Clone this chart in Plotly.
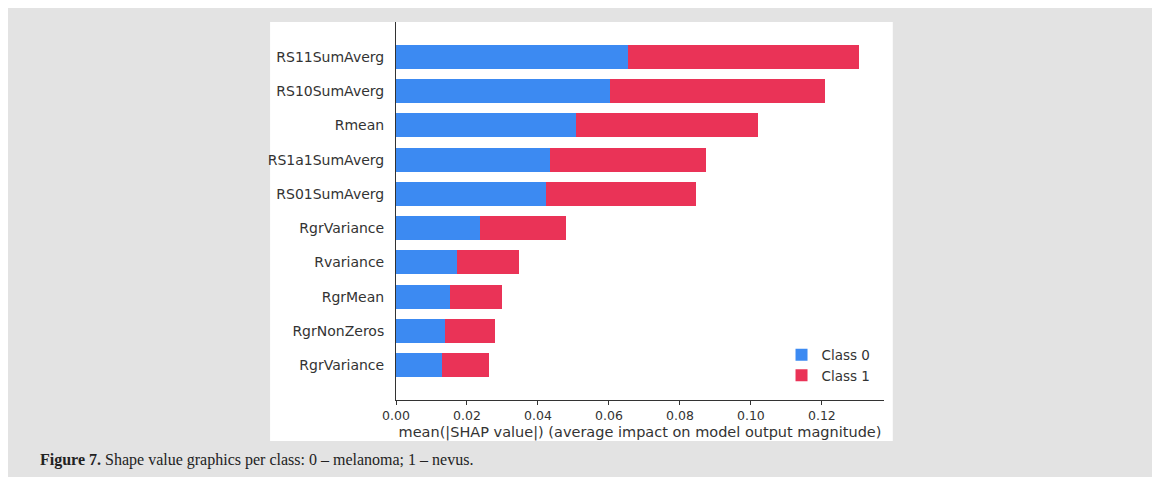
import plotly.graph_objects as go

features = ["RS11SumAverg", "RS10SumAverg", "Rmean", "RS1a1SumAverg", "RS01SumAverg",
            "RgrVariance", "Rvariance", "RgrMean", "RgrNonZeros", "RgrVariance"]
class0 = [0.0654, 0.0603, 0.0507, 0.0434, 0.0423, 0.0237, 0.0172, 0.0152, 0.0138, 0.0130]
class1 = [0.0650, 0.0605, 0.0513, 0.0439, 0.0422, 0.0242, 0.0174, 0.0147, 0.0141, 0.0132]

# numeric positions so the duplicated label stays two rows (top row = highest)
pos = list(range(len(features) - 1, -1, -1))

fig = go.Figure()
fig.add_trace(go.Bar(y=pos, x=class0, orientation="h", name="Class 0",
                     marker=dict(color="#3c8af2", line_width=0), width=0.7))
fig.add_trace(go.Bar(y=pos, x=class1, orientation="h", name="Class 1",
                     marker=dict(color="#ea3357", line_width=0), width=0.7))

fig.update_layout(
    barmode="stack",
    width=1144, height=469,
    margin=dict(l=388, r=268, t=14, b=77),
    paper_bgcolor="#e3e3e3",
    plot_bgcolor="white",
    font=dict(family="DejaVu Sans", color="#333333", size=14),
    legend=dict(x=0.79, y=0.16, xanchor="left", yanchor="top",
                bgcolor="rgba(0,0,0,0)", font=dict(size=13.5), traceorder="normal"),
    shapes=[
        dict(type="rect", xref="paper", yref="paper", x0=-0.258, x1=1.018,
             y0=-0.1085, y1=1.0, fillcolor="white", line_width=0, layer="below"),
    ],
    annotations=[
        dict(xref="paper", yref="paper", x=(38 - 396) / 488, y=-0.159,
             xanchor="left", yanchor="middle", showarrow=False,
             text="<b>Figure 7.</b> Shape value graphics per class: 0 \u2013 melanoma; 1 \u2013 nevus.",
             font=dict(family="Liberation Serif", size=16, color="#222222")),
    ],
)
fig.update_xaxes(range=[0, 0.1375], tickvals=[0, 0.02, 0.04, 0.06, 0.08, 0.10, 0.12],
                 tickformat=".2f", ticks="outside", ticklen=4, tickcolor="#333",
                 showline=True, linecolor="#333", showgrid=False, zeroline=False,
                 tickfont=dict(size=12.5),
                 title=dict(text="mean(|SHAP value|) (average impact on model output magnitude)",
                            font=dict(size=14.5), standoff=4))
fig.update_yaxes(range=[-1.02, 10.02], tickvals=pos, ticktext=features,
                 showline=True, linecolor="#333", showgrid=False, zeroline=False,
                 ticks="", ticklabelstandoff=8)

fig.write_html("out.html")
